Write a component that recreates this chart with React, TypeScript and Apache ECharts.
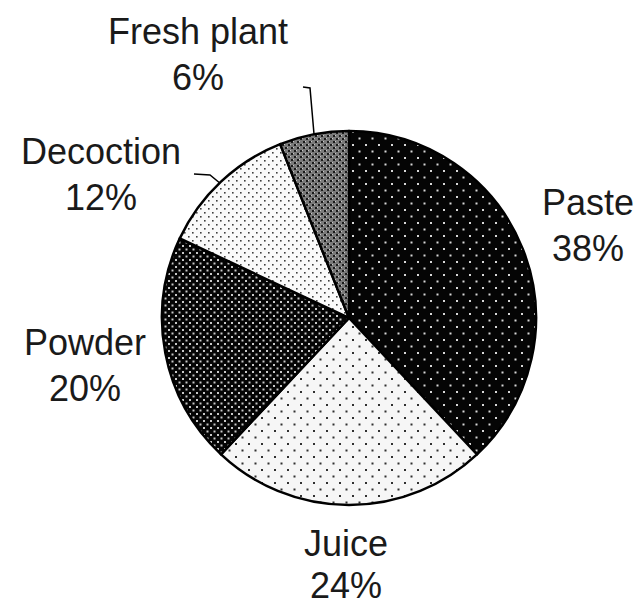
import React, { useEffect, useRef } from "react";
import * as echarts from "echarts";

const CATEGORIES = ["Paste", "Juice", "Powder", "Decoction", "Fresh plant"];
const VALUES = [38, 24, 20, 12, 6];

// layout (label anchor centres, line heights and leader lines), kept apart from the data
const LABEL_POS: [number, number][] = [
  [588, 225],
  [346, 564],
  [85, 365],
  [101, 174],
  [198, 54],
];
const LABEL_LINE_HEIGHT = [46, 42, 46, 46, 46];
const LEADERS: ([number, number][] | null)[] = [
  null,
  null,
  null,
  [[194, 174], [210, 175], [221, 184]],
  [[303, 87], [310, 88], [314, 134]],
];

type Dot = [number, number, number, string];
function makeTile(size: number, bg: string, dots: Dot[]) {
  const c = document.createElement("canvas");
  c.width = size;
  c.height = size;
  const ctx = c.getContext("2d")!;
  ctx.fillStyle = bg;
  ctx.fillRect(0, 0, size, size);
  for (const [x, y, s, col] of dots) {
    ctx.fillStyle = col;
    ctx.fillRect(x, y, s, s);
  }
  return {
    image: c,
    repeat: "repeat",
    imageWidth: size,
    imageHeight: size,
  } as any;
}

function patterns() {
  return [
    makeTile(13, "#050505", [
      [1, 1, 2, "#d8d8d8"],
      [7.5, 7.5, 2, "#d8d8d8"],
    ]),
    makeTile(13, "#f6f6f6", [
      [1, 1, 2, "#303030"],
      [7.5, 7.5, 2, "#303030"],
    ]),
    makeTile(7, "#050505", [
      [0, 0, 2, "#c8c8c8"],
      [3.5, 3.5, 2, "#c8c8c8"],
    ]),
    makeTile(8, "#fafafa", [
      [0, 0, 1.6, "#404040"],
      [4, 4, 1.6, "#404040"],
    ]),
    makeTile(6, "#7a7a7a", [
      [0, 0, 2, "#1a1a1a"],
      [3, 3, 2, "#1a1a1a"],
      [2, 0, 1, "#c8c8c8"],
      [5, 3, 1, "#c8c8c8"],
    ]),
  ];
}

export default function App() {
  const ref = useRef<HTMLDivElement>(null);
  useEffect(() => {
    document.body.style.margin = "0";
    const chart = echarts.init(ref.current!, undefined, { renderer: "svg" });
    const pats = patterns();
    chart.setOption({
      animation: false,
      backgroundColor: "#ffffff",
      series: [
        {
          type: "pie",
          center: [349, 318],
          radius: 187,
          startAngle: 90,
          clockwise: true,
          avoidLabelOverlap: false,
          itemStyle: { borderColor: "#000", borderWidth: 2.5 },
          label: {
            show: true,
            formatter: "{b}\n{c}%",
            fontFamily: "'Liberation Sans', Arial, sans-serif",
            fontSize: 36,
            lineHeight: 46,
            color: "#1a1a1a",
            align: "center",
          },
          labelLine: { show: true, lineStyle: { color: "#000", width: 1.5 } },
          labelLayout: (p: any) => {
            const i = p.dataIndex;
            const out: any = {
              x: LABEL_POS[i][0],
              y: LABEL_POS[i][1],
              align: "center",
              verticalAlign: "middle",
            };
            if (LEADERS[i]) out.labelLinePoints = LEADERS[i];
            return out;
          },
          data: CATEGORIES.map((name, i) => ({
            name,
            value: VALUES[i],
            itemStyle: { color: pats[i] },
            label: { lineHeight: LABEL_LINE_HEIGHT[i] },
            labelLine: { show: !!LEADERS[i] },
          })),
        },
      ],
    });
    return () => chart.dispose();
  }, []);
  return <div ref={ref} style={{ width: 641, height: 607 }} />;
}
